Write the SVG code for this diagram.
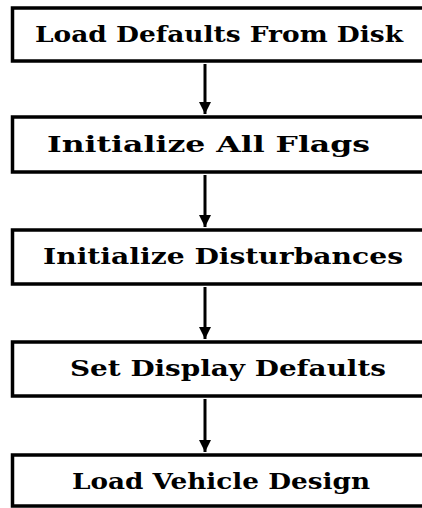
<svg xmlns="http://www.w3.org/2000/svg" width="422" height="508" viewBox="0 0 422 508">
<style>
.box{fill:#fff;stroke:#000;stroke-width:3.5}
.lbl{font-family:"DejaVu Serif","Liberation Serif",serif;font-weight:bold;font-size:23px;fill:#000}
.con{stroke:#000;stroke-width:3;fill:none}
</style>
<defs>
<marker id="ah" markerWidth="14" markerHeight="12" refX="12" refY="6" orient="auto" markerUnits="userSpaceOnUse">
<path d="M0,0 L12,6 L0,12 z" fill="#000"/>
</marker>
</defs>
<rect width="422" height="508" fill="#fff"/>
<g id="n1"><rect class="box" x="12.5" y="8" width="430" height="53"/><text class="lbl" x="35" y="42" textLength="368" lengthAdjust="spacingAndGlyphs">Load Defaults From Disk</text></g>
<g id="n2"><rect class="box" x="12.5" y="117" width="430" height="55"/><text class="lbl" x="47" y="152" textLength="323" lengthAdjust="spacingAndGlyphs">Initialize All Flags</text></g>
<g id="n3"><rect class="box" x="12.5" y="230" width="430" height="54"/><text class="lbl" x="43" y="264" textLength="360" lengthAdjust="spacingAndGlyphs">Initialize Disturbances</text></g>
<g id="n4"><rect class="box" x="12.5" y="342" width="430" height="54"/><text class="lbl" x="70" y="376" textLength="316" lengthAdjust="spacingAndGlyphs">Set Display Defaults</text></g>
<g id="n5"><rect class="box" x="12.5" y="455" width="430" height="51"/><text class="lbl" x="72" y="489" textLength="298" lengthAdjust="spacingAndGlyphs">Load Vehicle Design</text></g>
<g id="connectors">
<line class="con" x1="205" y1="64" x2="205" y2="114" marker-end="url(#ah)"/>
<line class="con" x1="205" y1="175" x2="205" y2="227" marker-end="url(#ah)"/>
<line class="con" x1="205" y1="287" x2="205" y2="339" marker-end="url(#ah)"/>
<line class="con" x1="205" y1="399" x2="205" y2="452" marker-end="url(#ah)"/>
</g>
</svg>
